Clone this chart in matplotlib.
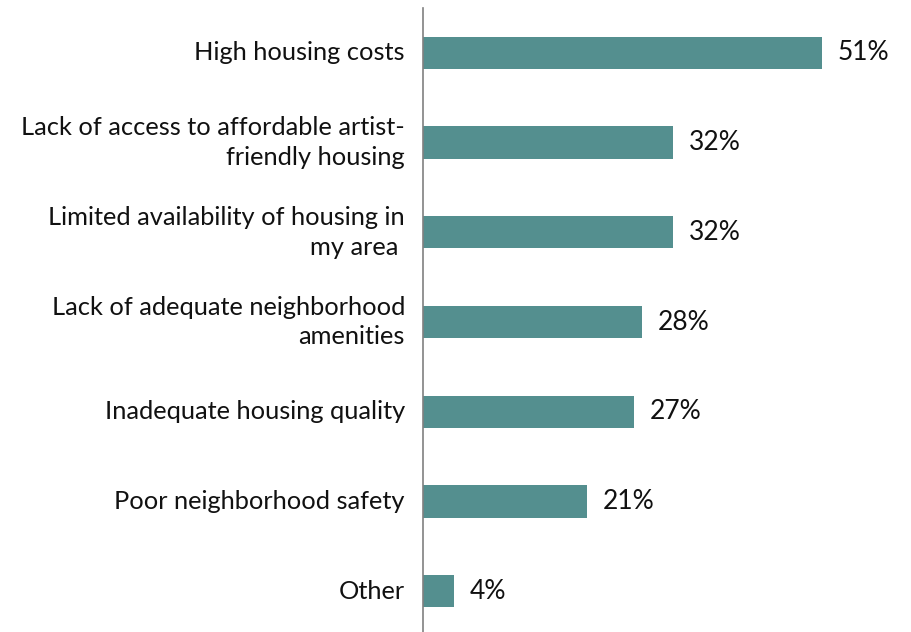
import matplotlib
matplotlib.use("Agg")
import matplotlib.pyplot as plt

# survey results: housing barriers
categories = [
    "High housing costs",
    "Lack of access to affordable artist-\nfriendly housing",
    "Limited availability of housing in\nmy area ",
    "Lack of adequate neighborhood\namenities",
    "Inadequate housing quality",
    "Poor neighborhood safety",
    "Other",
]
values = [51, 32, 32, 28, 27, 21, 4]

plt.rcParams["font.family"] = ["Lato", "DejaVu Sans"]

fig = plt.figure(figsize=(9.12, 6.32), dpi=100)
ax = fig.add_axes([423 / 912, -4 / 632, (900 - 423) / 912, 628 / 632])

pos = list(range(len(categories)))
ax.barh(pos, values, height=0.36, color="#548f8f")

for y, v in zip(pos, values):
    ax.text(v + 2.0, y, f"{v}%", va="center", ha="left", fontsize=19, color="#111111")

ax.set_yticks(pos)
ax.set_yticklabels(categories, fontsize=18.3, color="#111111", ha="right",
                   va="center", linespacing=1.35)
ax.tick_params(axis="y", length=0, pad=13)
ax.set_ylim(len(categories) - 0.5, -0.5)
ax.set_xlim(0, 61)
ax.set_xticks([])

for s in ["top", "right", "bottom"]:
    ax.spines[s].set_visible(False)
ax.spines["left"].set_color("#808080")
ax.spines["left"].set_linewidth(1.2)

fig.savefig("out.png", dpi=100)
